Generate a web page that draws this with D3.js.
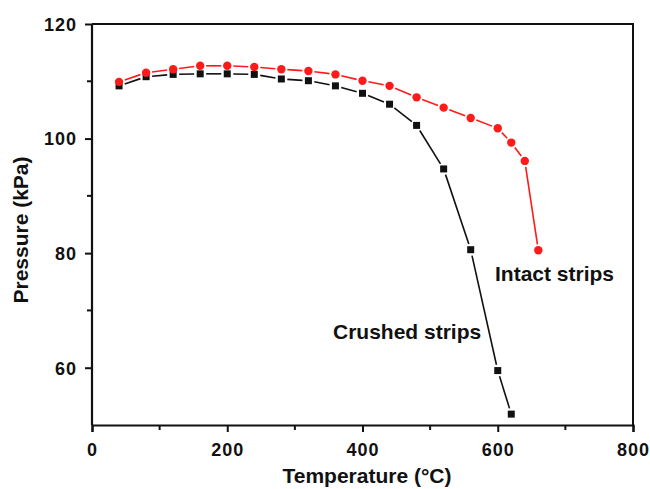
<!DOCTYPE html>
<html>
<head>
<meta charset="utf-8">
<script src="https://cdn.jsdelivr.net/npm/d3@7"></script>
<style>
  body { margin: 0; background: #fff; }
  svg text { font-family: "Liberation Sans", Arial, sans-serif; font-weight: bold; fill: #111; }
</style>
</head>
<body>
<div id="svg-container"></div>
<script>
// data
const intactTemp = [40, 80, 120, 160, 200, 240, 280, 320, 360, 400, 440, 480, 520, 560, 600, 620, 640, 660];
const intactPressure = [109.9, 111.5, 112.1, 112.7, 112.7, 112.5, 112.1, 111.8, 111.2, 110.1, 109.2, 107.2, 105.4, 103.6, 101.8, 99.3, 96.1, 80.5];
const crushedTemp = [40, 80, 120, 160, 200, 240, 280, 320, 360, 400, 440, 480, 520, 560, 600, 620];
const crushedPressure = [109.2, 110.8, 111.2, 111.3, 111.3, 111.2, 110.4, 110.1, 109.2, 107.9, 106.0, 102.3, 94.7, 80.6, 59.5, 51.9];
const xTicks = [0, 200, 400, 600, 800];
const xMinor = [100, 300, 500, 700];
const yTicks = [60, 80, 100, 120];
const yMinor = [70, 90, 110];

const width = 650, height = 489;
const margin = { top: 24, right: 17, bottom: 64, left: 92 };

const svg = d3.select("#svg-container").append("svg")
  .attr("width", width).attr("height", height);

const xScale = d3.scaleLinear().domain([0, 800]).range([margin.left, width - margin.right]);
const yScale = d3.scaleLinear().domain([50, 120]).range([height - margin.bottom, margin.top]);

// frame (top + right)
svg.append("path")
  .attr("d", `M${xScale(0)},${yScale(120)}H${xScale(800)}V${yScale(50)}`)
  .attr("fill", "none").attr("stroke", "#111").attr("stroke-width", 2);

// axes
const xAxis = d3.axisBottom(xScale).tickValues(xTicks).tickSize(7).tickPadding(11).tickFormat(d3.format("d"));
const yAxis = d3.axisLeft(yScale).tickValues(yTicks).tickSize(7).tickPadding(8).tickFormat(d3.format("d"));

const gx = svg.append("g").attr("transform", `translate(0,${yScale(50)})`).call(xAxis);
const gy = svg.append("g").attr("transform", `translate(${xScale(0)},0)`).call(yAxis);

[gx, gy].forEach(g => {
  g.select(".domain").attr("stroke", "#111").attr("stroke-width", 2.2);
  g.selectAll(".tick line").attr("stroke", "#111").attr("stroke-width", 2);
  g.selectAll(".tick text").style("font-size", "18px").style("letter-spacing", "1px").attr("fill", "#111");
});
gy.select(".domain").attr("d", `M-0,${yScale(120)}H0V${yScale(50)}H-0`);
gy.selectAll(".tick text").attr("dy", "0.35em");

// minor ticks
gx.selectAll(".minor").data(xMinor).enter().append("line")
  .attr("x1", d => xScale(d)).attr("x2", d => xScale(d))
  .attr("y1", 0).attr("y2", 5).attr("stroke", "#111").attr("stroke-width", 2);
gy.selectAll(".minor").data(yMinor).enter().append("line")
  .attr("y1", d => yScale(d)).attr("y2", d => yScale(d))
  .attr("x1", 0).attr("x2", -5).attr("stroke", "#111").attr("stroke-width", 2);

// segments with a small gap around each symbol
function drawSeries(temps, vals, color, gap) {
  const pts = temps.map((t, i) => [xScale(t), yScale(vals[i])]);
  const segs = [];
  for (let i = 0; i < pts.length - 1; i++) {
    const [x1, y1] = pts[i], [x2, y2] = pts[i + 1];
    const len = Math.hypot(x2 - x1, y2 - y1);
    if (len <= 2 * gap) continue;
    const ux = (x2 - x1) / len, uy = (y2 - y1) / len;
    segs.push([x1 + ux * gap, y1 + uy * gap, x2 - ux * gap, y2 - uy * gap]);
  }
  svg.append("g").selectAll("line").data(segs).enter().append("line")
    .attr("x1", d => d[0]).attr("y1", d => d[1])
    .attr("x2", d => d[2]).attr("y2", d => d[3])
    .attr("stroke", color).attr("stroke-width", 1.6);
  return pts;
}

drawSeries(crushedTemp, crushedPressure, "#111", 6);
drawSeries(intactTemp, intactPressure, "#ff1a1a", 6);

svg.append("g").selectAll("rect").data(crushedTemp).enter().append("rect")
  .attr("x", (d) => xScale(d) - 3.5)
  .attr("y", (d, i) => yScale(crushedPressure[i]) - 3.5)
  .attr("width", 7).attr("height", 7)
  .attr("fill", "#111");

svg.append("g").selectAll("circle").data(intactTemp).enter().append("circle")
  .attr("cx", (d) => xScale(d))
  .attr("cy", (d, i) => yScale(intactPressure[i]))
  .attr("r", 4.2)
  .attr("fill", "#ff1a1a");

// series labels
svg.append("text").attr("x", 495).attr("y", 281).style("font-size", "21px").text("Intact strips");
svg.append("text").attr("x", 333).attr("y", 339).style("font-size", "21px").text("Crushed strips");

// axis titles
svg.append("text")
  .attr("x", 367).attr("y", 483)
  .attr("text-anchor", "middle").style("font-size", "21px")
  .text("Temperature (\u00B0C)");

svg.append("text")
  .attr("transform", `translate(28,${230}) rotate(-90)`)
  .attr("text-anchor", "middle").style("font-size", "21px")
  .text("Pressure (kPa)");
</script>
</body>
</html>
